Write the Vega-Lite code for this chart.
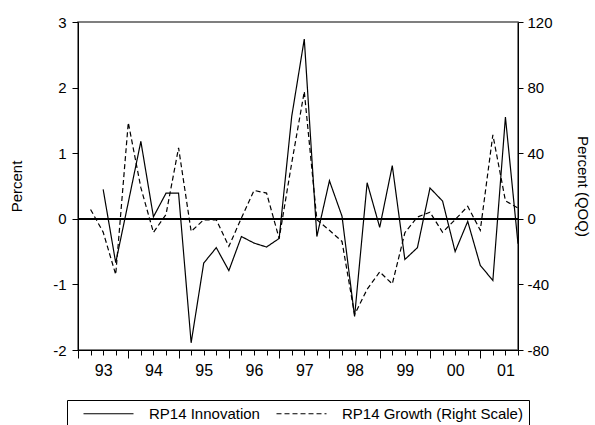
{
  "$schema": "https://vega.github.io/schema/vega-lite/v6.json",
  "width": 440,
  "height": 328,
  "autosize": "none",
  "padding": {"left": 78, "top": 22, "right": 77, "bottom": 75},
  "background": "white",
  "config": {
    "font": "Liberation Sans",
    "view": {"stroke": "#555555", "strokeWidth": 1.5},
    "axis": {
      "domainColor": "black", "tickColor": "black", "labelColor": "black", "titleColor": "black",
      "labelFont": "Liberation Sans", "titleFont": "Liberation Sans",
      "labelFontSize": 15, "titleFontSize": 15, "titleFontWeight": "normal",
      "grid": false, "domainWidth": 1, "tickWidth": 1
    },
    "legend": {
      "labelFont": "Liberation Sans", "labelFontSize": 15, "labelColor": "black", "labelLimit": 400
    }
  },
  "data": {
    "values": [
      {"t": 1993.25, "innovation": null, "growth": 5.7},
      {"t": 1993.5, "innovation": 0.45, "growth": -8.1},
      {"t": 1993.75, "innovation": -0.67, "growth": -34},
      {"t": 1994.0, "innovation": 0.25, "growth": 58.7},
      {"t": 1994.25, "innovation": 1.18, "growth": 19},
      {"t": 1994.5, "innovation": 0.03, "growth": -8.3},
      {"t": 1994.75, "innovation": 0.39, "growth": 2.6},
      {"t": 1995.0, "innovation": 0.39, "growth": 43.3},
      {"t": 1995.25, "innovation": -1.89, "growth": -7.7},
      {"t": 1995.5, "innovation": -0.675, "growth": -0.6},
      {"t": 1995.75, "innovation": -0.44, "growth": -0.6},
      {"t": 1996.0, "innovation": -0.79, "growth": -16.8},
      {"t": 1996.25, "innovation": -0.27, "growth": 0.5},
      {"t": 1996.5, "innovation": -0.37, "growth": 17.3},
      {"t": 1996.75, "innovation": -0.43, "growth": 15.7},
      {"t": 1997.0, "innovation": -0.3, "growth": -12},
      {"t": 1997.25, "innovation": 1.56, "growth": 34},
      {"t": 1997.5, "innovation": 2.74, "growth": 77.6},
      {"t": 1997.75, "innovation": -0.27, "growth": -0.6},
      {"t": 1998.0, "innovation": 0.58, "growth": -7},
      {"t": 1998.25, "innovation": 0.04, "growth": -13.8},
      {"t": 1998.5, "innovation": -1.49, "growth": -58.4},
      {"t": 1998.75, "innovation": 0.55, "growth": -43},
      {"t": 1999.0, "innovation": -0.13, "growth": -32.4},
      {"t": 1999.25, "innovation": 0.81, "growth": -39.7},
      {"t": 1999.5, "innovation": -0.62, "growth": -8.5},
      {"t": 1999.75, "innovation": -0.44, "growth": 1.1},
      {"t": 2000.0, "innovation": 0.47, "growth": 4},
      {"t": 2000.25, "innovation": 0.27, "growth": -8.2},
      {"t": 2000.5, "innovation": -0.5, "growth": -0.5},
      {"t": 2000.75, "innovation": -0.04, "growth": 7.6},
      {"t": 2001.0, "innovation": -0.71, "growth": -7},
      {"t": 2001.25, "innovation": -0.94, "growth": 51.2},
      {"t": 2001.5, "innovation": 1.55, "growth": 11},
      {"t": 2001.75, "innovation": -0.38, "growth": 6.5}
    ]
  },
  "layer": [
    {
      "mark": {"type": "rule", "color": "black", "strokeWidth": 0.8},
      "encoding": {
        "y": {"datum": 0, "type": "quantitative", "scale": {"domain": [-2, 3], "nice": false, "zero": false}, "axis": null}
      }
    },
    {
      "mark": {"type": "line", "color": "black", "strokeWidth": 1.2},
      "encoding": {
        "x": {
          "field": "t", "type": "quantitative",
          "scale": {"domain": [1993, 2001.75], "nice": false, "zero": false},
          "axis": {
            "orient": "bottom",
            "title": null,
            "values": [1993, 1993.25, 1993.5, 1993.75, 1994, 1994.25, 1994.5, 1994.75, 1995, 1995.25, 1995.5, 1995.75, 1996, 1996.25, 1996.5, 1996.75, 1997, 1997.25, 1997.5, 1997.75, 1998, 1998.25, 1998.5, 1998.75, 1999, 1999.25, 1999.5, 1999.75, 2000, 2000.25, 2000.5, 2000.75, 2001, 2001.25, 2001.5, 2001.75],
            "tickSize": {"condition": {"test": "datum.value % 1 == 0", "value": 8}, "value": 5},
            "labels": false
          }
        },
        "y": {
          "field": "innovation", "type": "quantitative",
          "scale": {"domain": [-2, 3], "nice": false, "zero": false},
          "axis": {"orient": "left", "title": "Percent", "values": [-2, -1, 0, 1, 2, 3], "labelExpr": "toString(datum.value)", "tickSize": 6, "labelPadding": 6, "titlePadding": 28}
        },
        "strokeDash": {
          "datum": "RP14 Innovation",
          "scale": {"domain": ["RP14 Innovation", "RP14 Growth (Right Scale)"], "range": [[1, 0], [5, 3]]},
          "legend": {
            "title": null, "orient": "none", "legendX": -11, "legendY": 378,
            "direction": "horizontal", "strokeColor": "black", "fillColor": "white",
            "padding": 6, "symbolType": "M-5,0H5", "symbolSize": 100, "symbolStrokeColor": "black",
            "symbolStrokeWidth": 1.2, "symbolOffset": 28, "labelOffset": 33, "columnPadding": 6
          }
        }
      }
    },
    {
      "mark": {"type": "line", "color": "black", "strokeWidth": 1.2},
      "encoding": {
        "x": {
          "field": "t", "type": "quantitative",
          "axis": {
            "orient": "bottom",
            "title": null,
            "values": [1993.5, 1994.5, 1995.5, 1996.5, 1997.5, 1998.5, 1999.5, 2000.5, 2001.5],
            "ticks": false, "domain": false,
            "labelExpr": "format(floor(datum.value) % 100, '02d')",
            "labelFontSize": 16,
            "labelPadding": 12, "labelOverlap": false, "labelFlush": false, "labelBound": false
          }
        },
        "y": {
          "field": "growth", "type": "quantitative",
          "scale": {"domain": [-80, 120], "nice": false, "zero": false},
          "axis": {"orient": "right", "title": "Percent (QOQ)", "values": [-80, -40, 0, 40, 80, 120], "labelExpr": "toString(datum.value)", "tickSize": 5, "labelPadding": 4, "titlePadding": 22}
        },
        "strokeDash": {"datum": "RP14 Growth (Right Scale)"}
      }
    }
  ],
  "resolve": {"scale": {"y": "independent"}, "axis": {"x": "independent", "y": "independent"}}
}
